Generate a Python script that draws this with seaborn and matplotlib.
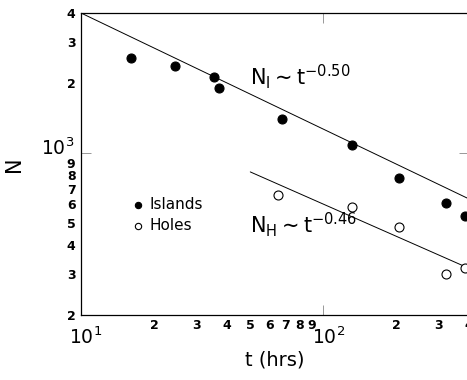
import numpy as np
import pandas as pd
import matplotlib
matplotlib.use("Agg")
import matplotlib.pyplot as plt
import matplotlib.transforms as mtransforms
import seaborn as sns

# ---- data ----
islands_t = [16.1, 24.4, 35.4, 37.1, 67.7, 131.8, 206, 322, 386]
islands_n = [2560, 2365, 2120, 1900, 1396, 1079, 778, 607, 533]
holes_t = [65.2, 131.8, 206, 322, 386]
holes_n = [658, 584, 478, 300, 318]

# power-law fits shown on the chart
fit_I_prefactor, fit_I_exp = 4000 * 10 ** 0.50, -0.50
fit_H_prefactor, fit_H_exp = 5000, -0.46
fit_I_range = [10, 400]
fit_H_range = [50, 400]

x_major = [10, 100]
x_major_labels = [r"$10^1$", r"$10^2$"]
x_minor = [20, 30, 40, 50, 60, 70, 80, 90, 200, 300, 400]
x_minor_labels = ["2", "3", "4", "5", "6", "7", "8", "9", "2", "3", "4"]
y_major = [1000]
y_major_labels = [r"$10^3$"]
y_minor = [200, 300, 400, 500, 600, 700, 800, 900, 2000, 3000, 4000]
y_minor_labels = ["2", "3", "4", "5", "6", "7", "8", "9", "2", "3", "4"]

sns.set_style("ticks")
plt.rcParams["font.family"] = ["DejaVu Sans"]
plt.rcParams["mathtext.fontset"] = "dejavusans"
plt.rcParams["text.color"] = "black"
plt.rcParams["axes.labelcolor"] = "black"
plt.rcParams["xtick.color"] = "black"
plt.rcParams["ytick.color"] = "black"

fig = plt.figure(figsize=(4.67, 3.80), dpi=100)
ax = fig.add_axes([81 / 467, 65 / 380, 388 / 467, 302 / 380])

df = pd.DataFrame({
    "t": islands_t + holes_t,
    "N": islands_n + holes_n,
    "kind": ["Islands"] * len(islands_t) + ["Holes"] * len(holes_t),
})

sns.scatterplot(data=df[df.kind == "Islands"], x="t", y="N", ax=ax, s=42,
                color="black", edgecolor="black", linewidth=0.8, label="Islands", zorder=3)
sns.scatterplot(data=df[df.kind == "Holes"], x="t", y="N", ax=ax, s=42,
                facecolor="white", edgecolor="black", linewidth=0.8, label="Holes", zorder=3)

tI = np.array(fit_I_range, dtype=float)
tH = np.array(fit_H_range, dtype=float)
sns.lineplot(x=tI, y=fit_I_prefactor * tI ** fit_I_exp, ax=ax, color="black", lw=0.7, legend=False)
sns.lineplot(x=tH, y=fit_H_prefactor * tH ** fit_H_exp, ax=ax, color="black", lw=0.7, legend=False)

ax.set_xscale("log")
ax.set_yscale("log")
ax.set_xlim(10, 400)
ax.set_ylim(200, 4000)

ax.set_xticks(x_major)
ax.set_xticklabels(x_major_labels, fontsize=13.5)
ax.set_xticks(x_minor, minor=True)
ax.set_xticklabels(x_minor_labels, minor=True, fontsize=9, fontweight="bold")
ax.set_yticks(y_major)
ax.set_yticklabels(y_major_labels, fontsize=13.5)
ax.set_yticks(y_minor, minor=True)
ax.set_yticklabels(y_minor_labels, minor=True, fontsize=9, fontweight="bold")

ax.tick_params(which="major", direction="in", length=7, width=0.6, color="#888888",
               top=True, right=True)
ax.tick_params(axis="x", which="major", pad=8)
ax.tick_params(axis="y", which="major", pad=5)
ax.tick_params(which="minor", length=0, top=False, right=False)
ax.tick_params(axis="x", which="minor", pad=3)
ax.tick_params(axis="y", which="minor", pad=4)

# nudge the decade labels like the reference (slightly right / up)
dx = mtransforms.ScaledTranslation(5 / 100, 0, fig.dpi_scale_trans)
for lbl in ax.xaxis.get_majorticklabels():
    lbl.set_transform(lbl.get_transform() + dx)
dy = mtransforms.ScaledTranslation(0, 7 / 100, fig.dpi_scale_trans)
for lbl in ax.yaxis.get_majorticklabels():
    lbl.set_transform(lbl.get_transform() + dy)

for side in ["left", "bottom", "top"]:
    ax.spines[side].set_linewidth(0.9)
    ax.spines[side].set_color("black")
ax.spines["right"].set_visible(False)

ax.set_xlabel("t (hrs)", fontsize=14, labelpad=2)
ax.set_ylabel("N", fontsize=15, labelpad=12)

ax.text(49.9, 1960, r"$\mathregular{N_I \sim t^{-0.50}}$", fontsize=15, va="baseline", ha="left")
ax.text(49.9, 451, r"$\mathregular{N_H \sim t^{-0.46}}$", fontsize=15, va="baseline", ha="left")

leg = ax.legend(loc="upper left", bbox_to_anchor=(0.115, 0.41), frameon=False,
                fontsize=11, handletextpad=0.35, labelspacing=0.35, markerscale=0.7,
                borderaxespad=0, handlelength=0.8)

fig.savefig("out.png", dpi=100)
